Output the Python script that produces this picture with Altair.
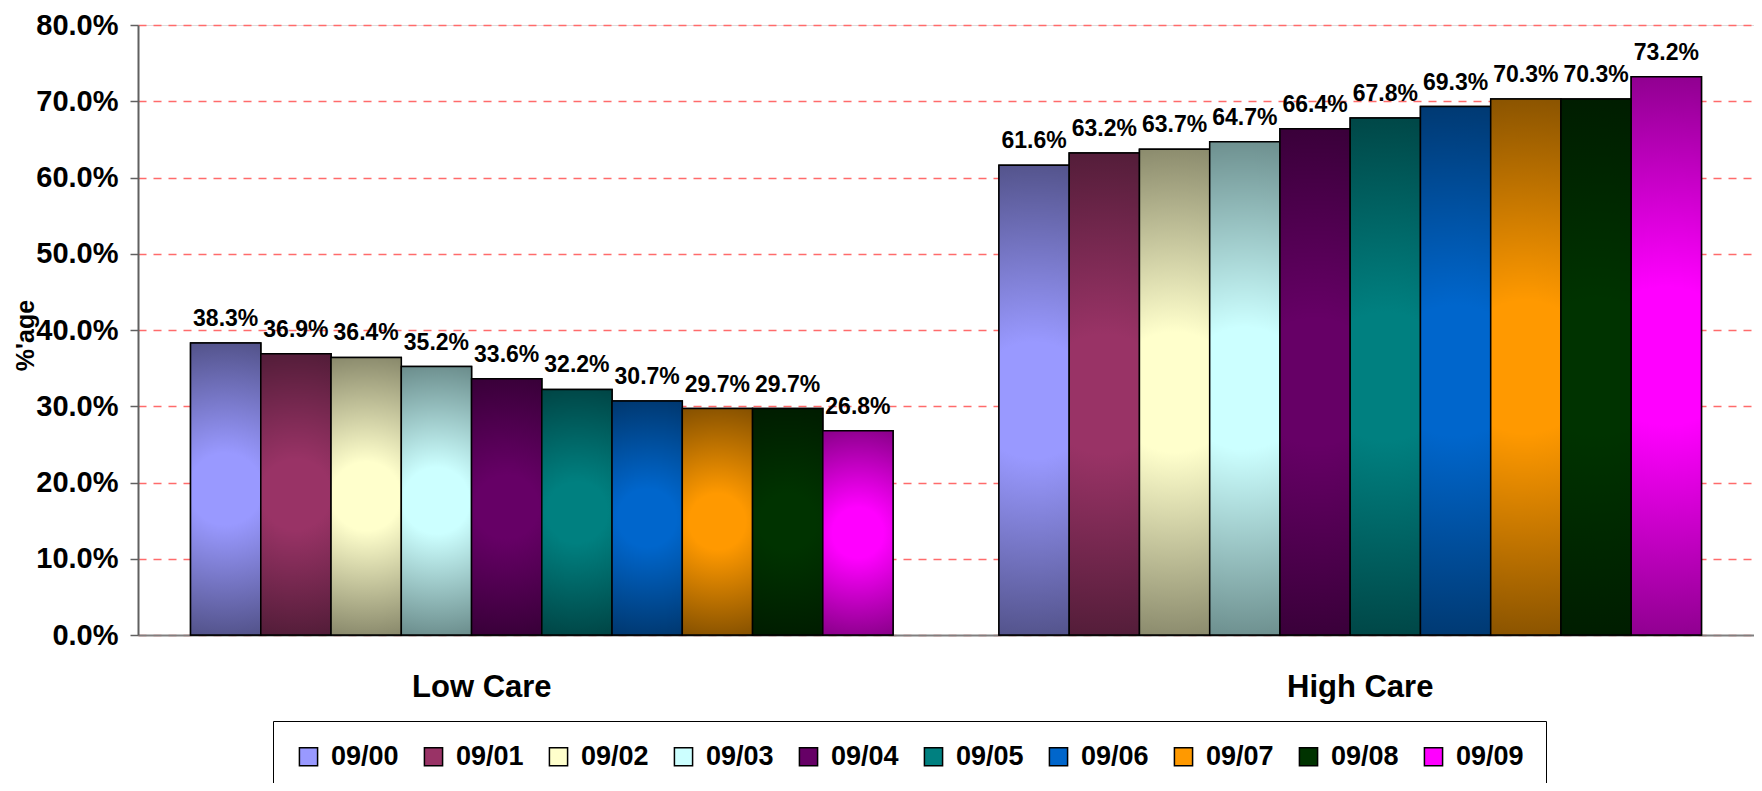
import altair as alt
import pandas as pd

categories = ["Low Care", "High Care"]
series = ["09/00", "09/01", "09/02", "09/03", "09/04", "09/05", "09/06", "09/07", "09/08", "09/09"]
low_values = [38.3, 36.9, 36.4, 35.2, 33.6, 32.2, 30.7, 29.7, 29.7, 26.8]
high_values = [61.6, 63.2, 63.7, 64.7, 66.4, 67.8, 69.3, 70.3, 70.3, 73.2]
y_ticks = [0, 0.1, 0.2, 0.3, 0.4, 0.5, 0.6, 0.7, 0.8]

base_colors = ["#9999FF", "#993366", "#FFFFCC", "#CCFFFF", "#660066",
               "#008080", "#0066CC", "#FF9900", "#003300", "#FF00FF"]
dark_colors = ["#4A4A7C", "#4A1A33", "#7B7B60", "#60807F", "#330033",
               "#003F3F", "#003366", "#7A4A00", "#001A00", "#800080"]

rows = []
for cat, vals in zip(categories, [low_values, high_values]):
    for s, v in zip(series, vals):
        rows.append({"cat": cat, "series": s, "value": v / 100.0})
df = pd.DataFrame(rows)

FONT = "Liberation Sans, Arial, Helvetica, sans-serif"
W, H = 1616, 610

x_enc = alt.X("cat:N", sort=categories,
              scale=alt.Scale(paddingInner=0.131, paddingOuter=0.065),
              axis=alt.Axis(title=None, labels=False, ticks=False,
                            domainColor="#808080", domainWidth=2, grid=False))
xo_enc = alt.XOffset("series:N", sort=series,
                     scale=alt.Scale(paddingInner=0, paddingOuter=0))
y_enc = alt.Y("value:Q",
              scale=alt.Scale(domain=[0, 0.8], nice=False),
              axis=alt.Axis(title="%'age", format=".1%", values=y_ticks,
                            labelFont=FONT, labelFontWeight="bold",
                            labelFontSize=29, labelColor="black", labelPadding=12,
                            tickSize=8, tickColor="#606060", tickWidth=1.5,
                            domainColor="#606060", domainWidth=2,
                            grid=True, gridColor="#FF6B6B", gridDash=[8, 7],
                            gridWidth=1.5,
                            titleFont=FONT, titleFontWeight="bold",
                            titleFontSize=25, titleColor="black",
                            titleX=-113, titleY=310, titleAngle=-90,
                            titleAlign="center", titleBaseline="middle"))

base = alt.Chart(df)

legend_bars = base.mark_bar(stroke="black", strokeWidth=1.5).encode(
    x=x_enc, xOffset=xo_enc, y=y_enc,
    color=alt.Color("series:N", sort=series,
                    scale=alt.Scale(domain=series, range=base_colors),
                    legend=alt.Legend(title=None, orient="none",
                                      legendX=135, legendY=696,
                                      direction="horizontal", columns=10,
                                      symbolType="square", symbolSize=330,
                                      symbolStrokeColor="black",
                                      symbolStrokeWidth=1.5,
                                      labelFont=FONT, labelFontWeight="bold",
                                      labelFontSize=27, labelColor="black",
                                      labelOffset=9, columnPadding=21,
                                      padding=22, strokeColor="black",
                                      fillColor="white"))
)

layers = [legend_bars]
for s, light, dark in zip(series, base_colors, dark_colors):
    grad = alt.Gradient(
        gradient="radial",
        stops=[alt.GradientStop(color=light, offset=0),
               alt.GradientStop(color=light, offset=0.2),
               alt.GradientStop(color=dark, offset=0.9)],
        x1=0.5, y1=0.5, r1=0, x2=0.5, y2=0.5, r2=0.62)
    layers.append(
        base.transform_filter(alt.datum.series == s)
        .mark_bar(fill=grad, stroke="black", strokeWidth=1.5)
        .encode(x=x_enc, xOffset=xo_enc, y=y_enc)
    )

labels = base.mark_text(font=FONT, fontWeight="bold", fontSize=23,
                        color="black", baseline="alphabetic", dy=-17).encode(
    x=x_enc, xOffset=xo_enc, y=y_enc,
    text=alt.Text("value:Q", format=".1%"))
layers.append(labels)

cat_df = pd.DataFrame({"cat": categories})
for cat, dx in zip(categories, [-60, 10]):
    layers.append(
        alt.Chart(cat_df).transform_filter(alt.datum.cat == cat)
        .mark_text(font=FONT, fontWeight="bold", fontSize=31, color="black",
                   baseline="middle", dx=dx)
        .encode(x=alt.X("cat:N", sort=categories), y=alt.value(663),
                text="cat:N")
    )

chart = alt.layer(*layers).properties(
    width=W, height=H,
    autosize=alt.AutoSizeParams(type="none"),
    padding={"left": 130, "top": 17, "right": 0, "bottom": 148},
).configure_view(stroke="#909090", strokeWidth=1.5).configure(background="white")

chart.save("out.html", embed_options={"renderer": "svg", "actions": False})
